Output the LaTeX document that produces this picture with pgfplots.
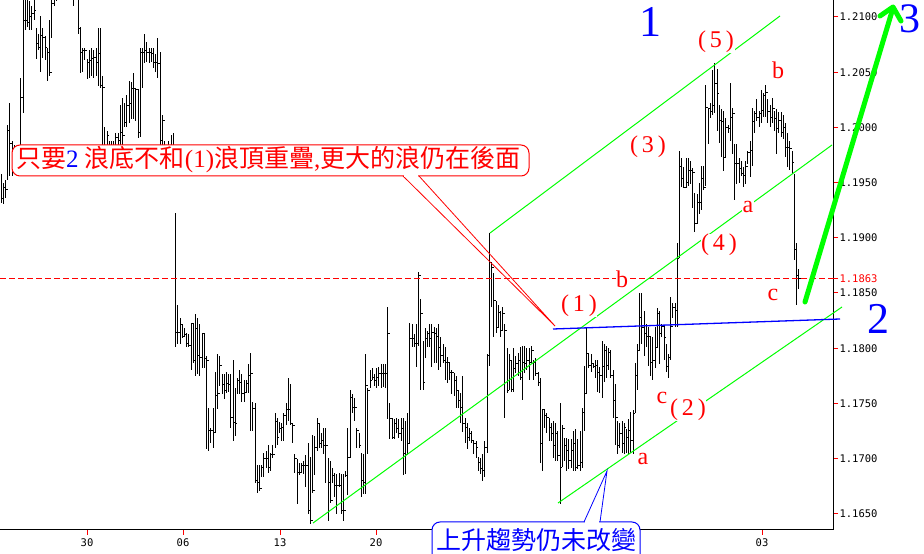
\documentclass[border=0pt]{standalone}
\usepackage{pgfplots}
\pgfplotsset{compat=1.18}
\usepackage{pgfplotstable}
\usepackage{fontspec}
\setmainfont{Liberation Serif}
\newfontfamily\cjk{Noto Sans CJK TC}
\newfontfamily\mono{DejaVu Sans Mono}
\definecolor{lime}{RGB}{0,255,0}
\definecolor{pblue}{RGB}{0,0,255}
\definecolor{pred}{RGB}{255,0,0}

\pgfdeclareplotmark{clt}{\pgfpathmoveto{\pgfqpoint{0pt}{0pt}}\pgfpathlineto{\pgfqpoint{2.1pt}{0pt}}\pgfusepathqstroke}
\pgfdeclareplotmark{opt}{\pgfpathmoveto{\pgfqpoint{-2.1pt}{0pt}}\pgfpathlineto{\pgfqpoint{0pt}{0pt}}\pgfusepathqstroke}

% bar index, high, low, close
\pgfplotstableread{
i h l c
0 1.1958 1.1932 1.1936
1 1.1950 1.1931 1.1946
2 1.1952 1.1936 1.1944
3 1.2002 1.1952 1.1997
4 1.2022 1.1956 1.1985
5 1.1988 1.1956 1.1970
6 1.1984 1.1959 1.1975
7 1.1979 1.1961 1.1970
8 1.1981 1.1963 1.1977
9 1.2045 1.1979 1.2027
10 1.2124 1.2013 1.2097
11 1.2120 1.2088 1.2097
12 1.2118 1.2091 1.2095
13 1.2115 1.2088 1.2100
14 1.2110 1.2088 1.2103
15 1.2117 1.2097 1.2106
16 1.2090 1.2062 1.2076
17 1.2085 1.2070 1.2072
18 1.2101 1.2050 1.2083
19 1.2090 1.2063 1.2081
20 1.2083 1.2061 1.2072
21 1.2072 1.2042 1.2068
22 1.2097 1.2047 1.2050
23 1.2118 1.2081 1.2112
24 1.2129 1.2110 1.2124
25 1.2133 1.2115 1.2126
26 1.2142 1.2122 1.2138
27 1.2149 1.2129 1.2133
28 1.2147 1.2124 1.2129
29 1.2142 1.2120 1.2138
30 1.2151 1.2131 1.2142
31 1.2147 1.2126 1.2131
32 1.2138 1.2117 1.2122
33 1.2129 1.2110 1.2120
34 1.2133 1.2117 1.2124
35 1.2122 1.2085 1.2090
36 1.2091 1.2049 1.2068
37 1.2072 1.2050 1.2070
38 1.2072 1.2061 1.2070
39 1.2062 1.2044 1.2059
40 1.2070 1.2045 1.2061
41 1.2072 1.2047 1.2062
42 1.2070 1.2045 1.2063
43 1.2072 1.2047 1.2059
44 1.2090 1.2038 1.2067
45 1.2090 1.2036 1.2038
46 1.2047 1.1970 1.2036
47 1.2000 1.1965 1.1979
48 1.1997 1.1961 1.1993
49 1.1988 1.1963 1.1970
50 1.1988 1.1961 1.1979
51 1.1988 1.1959 1.1984
52 1.1995 1.1965 1.1991
53 1.1995 1.1970 1.1988
54 1.2020 1.1970 1.1995
55 1.2027 1.1979 1.1993
56 1.2022 1.2000 1.2004
57 1.2029 1.2000 1.2020
58 1.2042 1.2004 1.2022
59 1.2041 1.2008 1.2035
60 1.2049 1.2008 1.2035
61 1.2035 1.2006 1.2034
62 1.2035 1.1990 1.1995
63 1.2072 1.1991 1.2068
64 1.2072 1.2036 1.2068
65 1.2085 1.2058 1.2070
66 1.2077 1.2059 1.2068
67 1.2072 1.2058 1.2068
68 1.2072 1.2059 1.2067
69 1.2072 1.2054 1.2059
70 1.2067 1.2050 1.2059
71 1.2081 1.2045 1.2058
72 1.2068 1.1981 1.1988
73 1.2011 1.1970 1.2006
74 1.1988 1.1961 1.1970
75 1.1984 1.1959 1.1979
76 1.1988 1.1963 1.1975
77 1.1993 1.1965 1.1984
78 1.1995 1.1961 1.1979
79 1.1923 1.1801 1.1814
80 1.1839 1.1804 1.1814
81 1.1827 1.1804 1.1821
82 1.1822 1.1809 1.1811
83 1.1818 1.1810 1.1812
84 1.1814 1.1801 1.1804
85 1.1813 1.1801 1.1802
86 1.1823 1.1780 1.1822
87 1.1823 1.1787 1.1789
88 1.1831 1.1775 1.1818
89 1.1827 1.1777 1.1793
90 1.1822 1.1775 1.1792
91 1.1814 1.1782 1.1813
92 1.1814 1.1782 1.1791
93 1.1793 1.1709 1.1789
94 1.1746 1.1707 1.1725
95 1.1728 1.1714 1.1725
96 1.1746 1.1710 1.1724
97 1.1778 1.1723 1.1757
98 1.1795 1.1745 1.1759
99 1.1793 1.1766 1.1784
100 1.1777 1.1759 1.1767
101 1.1777 1.1754 1.1762
102 1.1778 1.1759 1.1768
103 1.1777 1.1760 1.1767
104 1.1777 1.1728 1.1737
105 1.1789 1.1716 1.1733
106 1.1764 1.1721 1.1732
107 1.1773 1.1759 1.1771
108 1.1780 1.1759 1.1769
109 1.1777 1.1751 1.1759
110 1.1771 1.1751 1.1760
111 1.1771 1.1759 1.1768
112 1.1786 1.1759 1.1775
113 1.1796 1.1725 1.1777
114 1.1751 1.1725 1.1745
115 1.1750 1.1678 1.1680
116 1.1694 1.1669 1.1678
117 1.1694 1.1671 1.1673
118 1.1694 1.1683 1.1692
119 1.1705 1.1683 1.1700
120 1.1707 1.1692 1.1700
121 1.1712 1.1687 1.1692
122 1.1705 1.1689 1.1704
123 1.1712 1.1701 1.1704
124 1.1741 1.1710 1.1734
125 1.1737 1.1712 1.1719
126 1.1733 1.1723 1.1727
127 1.1732 1.1716 1.1728
128 1.1741 1.1716 1.1739
129 1.1750 1.1730 1.1744
130 1.1773 1.1734 1.1744
131 1.1768 1.1730 1.1732
132 1.1732 1.1714 1.1730
133 1.1704 1.1687 1.1700
134 1.1700 1.1659 1.1687
135 1.1696 1.1685 1.1687
136 1.1696 1.1687 1.1694
137 1.1698 1.1686 1.1694
138 1.1703 1.1674 1.1694
139 1.1714 1.1650 1.1653
140 1.1701 1.1641 1.1644
141 1.1721 1.1669 1.1671
142 1.1721 1.1685 1.1710
143 1.1737 1.1707 1.1732
144 1.1732 1.1710 1.1714
145 1.1723 1.1710 1.1716
146 1.1728 1.1704 1.1712
147 1.1728 1.1678 1.1712
148 1.1701 1.1644 1.1678
149 1.1698 1.1660 1.1662
150 1.1692 1.1678 1.1685
151 1.1687 1.1665 1.1676
152 1.1686 1.1650 1.1676
153 1.1687 1.1674 1.1676
154 1.1686 1.1650 1.1653
155 1.1686 1.1644 1.1653
156 1.1689 1.1683 1.1685
157 1.1728 1.1667 1.1701
158 1.1762 1.1701 1.1755
159 1.1759 1.1741 1.1746
160 1.1755 1.1734 1.1746
161 1.1728 1.1710 1.1725
162 1.1723 1.1710 1.1712
163 1.1705 1.1665 1.1680
164 1.1704 1.1668 1.1678
165 1.1795 1.1668 1.1766
166 1.1764 1.1704 1.1762
167 1.1780 1.1764 1.1771
168 1.1782 1.1771 1.1773
169 1.1777 1.1766 1.1771
170 1.1782 1.1764 1.1773
171 1.1783 1.1766 1.1777
172 1.1786 1.1764 1.1777
173 1.1786 1.1765 1.1777
174 1.1786 1.1764 1.1777
175 1.1837 1.1736 1.1813
176 1.1750 1.1718 1.1736
177 1.1737 1.1718 1.1719
178 1.1736 1.1718 1.1732
179 1.1737 1.1723 1.1727
180 1.1736 1.1719 1.1723
181 1.1737 1.1716 1.1727
182 1.1737 1.1685 1.1705
183 1.1734 1.1686 1.1704
184 1.1741 1.1703 1.1714
185 1.1823 1.1714 1.1809
186 1.1822 1.1801 1.1809
187 1.1813 1.1801 1.1804
188 1.1822 1.1783 1.1804
189 1.1869 1.1802 1.1866
190 1.1845 1.1762 1.1831
191 1.1807 1.1762 1.1769
192 1.1818 1.1791 1.1809
193 1.1816 1.1801 1.1813
194 1.1822 1.1801 1.1809
195 1.1822 1.1783 1.1814
196 1.1819 1.1787 1.1813
197 1.1818 1.1787 1.1811
198 1.1822 1.1780 1.1801
199 1.1810 1.1783 1.1793
200 1.1804 1.1787 1.1789
201 1.1801 1.1771 1.1787
202 1.1792 1.1769 1.1787
203 1.1787 1.1771 1.1778
204 1.1780 1.1759 1.1778
205 1.1778 1.1757 1.1771
206 1.1775 1.1746 1.1762
207 1.1762 1.1746 1.1753
208 1.1759 1.1732 1.1746
209 1.1775 1.1724 1.1732
210 1.1737 1.1714 1.1728
211 1.1732 1.1709 1.1719
212 1.1728 1.1716 1.1723
213 1.1725 1.1714 1.1716
214 1.1716 1.1704 1.1714
215 1.1716 1.1701 1.1710
216 1.1701 1.1689 1.1696
217 1.1701 1.1686 1.1691
218 1.1704 1.1680 1.1689
219 1.1716 1.1683 1.1710
220 1.1795 1.1705 1.1793
221 1.1904 1.1784 1.1878
222 1.1878 1.1837 1.1873
223 1.1868 1.1810 1.1843
224 1.1843 1.1814 1.1819
225 1.1839 1.1818 1.1832
226 1.1834 1.1810 1.1816
227 1.1837 1.1816 1.1831
228 1.1822 1.1737 1.1816
229 1.1800 1.1759 1.1762
230 1.1795 1.1762 1.1789
231 1.1789 1.1760 1.1763
232 1.1800 1.1760 1.1782
233 1.1793 1.1778 1.1786
234 1.1796 1.1775 1.1789
235 1.1801 1.1771 1.1773
236 1.1802 1.1753 1.1787
237 1.1802 1.1778 1.1786
238 1.1800 1.1780 1.1789
239 1.1800 1.1771 1.1787
240 1.1802 1.1787 1.1798
241 1.1789 1.1771 1.1787
242 1.1791 1.1775 1.1777
243 1.1778 1.1766 1.1769
244 1.1773 1.1696 1.1714
245 1.1745 1.1689 1.1744
246 1.1744 1.1728 1.1739
247 1.1741 1.1723 1.1737
248 1.1737 1.1716 1.1728
249 1.1732 1.1716 1.1723
250 1.1734 1.1701 1.1712
251 1.1732 1.1698 1.1723
252 1.1725 1.1698 1.1703
253 1.1750 1.1659 1.1692
254 1.1730 1.1692 1.1727
255 1.1719 1.1698 1.1712
256 1.1719 1.1689 1.1707
257 1.1718 1.1691 1.1698
258 1.1718 1.1692 1.1707
259 1.1725 1.1689 1.1714
260 1.1727 1.1689 1.1692
261 1.1718 1.1691 1.1694
262 1.1725 1.1689 1.1696
263 1.1746 1.1692 1.1742
264 1.1784 1.1725 1.1759
265 1.1819 1.1759 1.1795
266 1.1796 1.1782 1.1784
267 1.1795 1.1778 1.1786
268 1.1787 1.1782 1.1783
269 1.1789 1.1773 1.1784
270 1.1789 1.1760 1.1778
271 1.1783 1.1759 1.1775
272 1.1807 1.1755 1.1783
273 1.1804 1.1769 1.1798
274 1.1802 1.1773 1.1784
275 1.1800 1.1780 1.1796
276 1.1798 1.1773 1.1775
277 1.1780 1.1737 1.1753
278 1.1768 1.1712 1.1737
279 1.1734 1.1704 1.1712
280 1.1732 1.1710 1.1723
281 1.1734 1.1705 1.1714
282 1.1732 1.1704 1.1728
283 1.1727 1.1705 1.1719
284 1.1736 1.1703 1.1725
285 1.1742 1.1705 1.1716
286 1.1744 1.1704 1.1741
287 1.1787 1.1741 1.1775
288 1.1804 1.1762 1.1798
289 1.1850 1.1798 1.1828
290 1.1850 1.1804 1.1819
291 1.1834 1.1793 1.1813
292 1.1822 1.1801 1.1811
293 1.1819 1.1784 1.1811
294 1.1810 1.1775 1.1787
295 1.1810 1.1771 1.1789
296 1.1819 1.1782 1.1801
297 1.1836 1.1800 1.1831
298 1.1834 1.1786 1.1813
299 1.1822 1.1810 1.1820
300 1.1820 1.1789 1.1810
301 1.1804 1.1778 1.1783
302 1.1795 1.1773 1.1792
303 1.1846 1.1789 1.1820
304 1.1841 1.1827 1.1837
305 1.1841 1.1819 1.1834
306 1.1895 1.1819 1.1881
307 1.1979 1.1882 1.1965
308 1.1972 1.1946 1.1954
309 1.1964 1.1945 1.1946
310 1.1972 1.1945 1.1950
311 1.1972 1.1947 1.1961
312 1.1970 1.1949 1.1961
313 1.1963 1.1927 1.1959
314 1.1941 1.1905 1.1913
315 1.1940 1.1913 1.1932
316 1.1950 1.1922 1.1932
317 1.1965 1.1925 1.1954
318 1.1965 1.1943 1.1946
319 1.2038 1.1947 1.2018
320 1.2018 1.1985 1.2017
321 1.2022 1.2009 1.2014
322 1.2052 1.2011 1.2020
323 1.2058 1.2013 1.2040
324 1.2053 1.1997 1.2031
325 1.2020 1.1986 1.2006
326 1.2017 1.1973 1.2005
327 1.2015 1.1961 1.1973
328 1.2009 1.1972 1.2000
329 1.2002 1.1995 1.1999
330 1.2040 1.1988 1.2009
331 1.2018 1.1976 1.2013
332 1.1985 1.1934 1.1967
333 1.1985 1.1949 1.1967
334 1.1972 1.1950 1.1963
335 1.1970 1.1956 1.1958
336 1.1964 1.1946 1.1956
337 1.1970 1.1949 1.1965
338 1.1979 1.1967 1.1977
339 1.1988 1.1955 1.1979
340 1.2018 1.1965 1.2005
341 1.2015 1.1995 1.2013
342 1.2026 1.2006 1.2009
343 1.2015 1.2000 1.2013
344 1.2034 1.2004 1.2015
345 1.2031 1.2009 1.2029
346 1.2038 1.2009 1.2032
347 1.2026 1.2004 1.2014
348 1.2020 1.2000 1.2009
349 1.2027 1.2004 1.2017
350 1.2015 1.1997 1.2008
351 1.2017 1.1976 1.1999
352 1.2014 1.1995 1.2006
353 1.2014 1.1991 1.1995
354 1.2011 1.1990 1.2000
355 1.2004 1.1973 1.1982
356 1.1995 1.1964 1.1982
357 1.1988 1.1961 1.1981
358 1.1979 1.1958 1.1968
359 1.1958 1.1880 1.1889
360 1.1895 1.1839 1.1866
361 1.1872 1.1854 1.1863
}\bars

\begin{document}
\begin{tikzpicture}
\useasboundingbox (0,0) rectangle (924pt,554pt);
\begin{axis}[
  at={(0pt,24pt)}, anchor=south west,
  scale only axis, width=833pt, height=530pt,
  xmin=0, xmax=833, ymin=1.16353, ymax=1.21154,
  axis x line*=bottom, axis y line*=right,
  axis line style={black, line width=1pt},
  tick align=outside, major tick length=5pt,
  tick style={pred, line width=1pt},
  ytick={1.165,1.170,1.175,1.180,1.185,1.190,1.195,1.200,1.205,1.210},
  yticklabels={1.1650,1.1700,1.1750,1.1800,1.1850,1.1900,1.1950,1.2000,1.2050,1.2100},
  xtick={87,183,280,376,473,569,762},
  xticklabels={30,06,13,20,{},{},03},
  ticklabel style={font=\mono\fontsize{10.5}{12}\selectfont, text=black},
  yticklabel style={xshift=-2pt},
  extra y ticks={1.1863},
  extra y tick labels={1.1863},
  extra y tick style={yticklabel style={text=pred}},
  clip mode=individual,
]
\addplot[forget plot, draw=none, mark=none,
  error bars/.cd, y dir=both, y explicit, error mark=none,
  error bar style={draw=black, solid, line width=1pt}]
  table[x expr=1+2.21*\thisrow{i}, y expr={(\thisrow{h}+\thisrow{l})/2}, y error expr={(\thisrow{h}-\thisrow{l})/2}] {\bars};
\addplot[forget plot, only marks, mark=clt, mark options={draw=black, line width=1pt}]
  table[x expr=1+2.21*\thisrow{i}, y=c] {\bars};
\addplot[forget plot, only marks, mark=opt, mark options={draw=black, line width=1pt}, restrict x to domain=0:800]
  table[x expr=1+2.21*(\thisrow{i}+1), y=c] {\bars};
\draw[pred, line width=1pt, dash pattern=on 6pt off 3pt] (axis cs:0,1.1863) -- (axis cs:833,1.1863);
\end{axis}

\begin{scope}[shift={(0pt,554pt)}, x=1pt, y=-1pt]
% channel lines
\draw[lime, line width=1pt] (490,233) -- (780,16);
\draw[lime, line width=1pt] (313,523) -- (832,145);
\draw[lime, line width=1pt] (558,503) -- (842,307);
% blue line
\draw[pblue, line width=1.3pt] (553,329) -- (840,319);
% red callout
\draw[pred, line width=0.8pt] (403,176) -- (555,326) -- (419,176);
\draw[pred, line width=1pt, fill=white, rounded corners=8pt] (12,145) rectangle (529,176);
\draw[white, line width=1.6pt] (404,176) -- (418,176);
\node[anchor=west, inner sep=0pt, text=pred, font=\fontsize{25}{25}\selectfont] at (16,160)
  {{\cjk 只要}{\color{pblue}2} {\cjk 浪底不和}(1){\cjk 浪頂重疊},{\cjk 更大的浪仍在後面}};
% blue callout
\draw[pblue, line width=0.8pt] (584,522) -- (607,471) -- (600,522);
\draw[pblue, line width=1pt, fill=white, rounded corners=8pt] (432,522) rectangle (640,566);
\draw[white, line width=1.6pt] (585,522) -- (599,522);
\node[inner sep=0pt, text=pblue, font=\cjk\fontsize{25}{25}\selectfont] at (536,540) {上升趨勢仍未改變};
% wave labels
\begin{scope}[every node/.style={text=pred, fill=white, inner sep=0.5pt, font=\fontsize{24}{24}\selectfont}]
\node at (716,42) {(\,5\,)};
\node at (778,70) {b};
\node at (648,147) {(\,3\,)};
\node at (748,207) {a};
\node at (719,245) {(\,4\,)};
\node at (622,279) {b};
\node at (773,295) {c};
\node at (579,306) {(\,1\,)};
\node at (662,398) {c};
\node at (688,410) {(\,2\,)};
\node at (643,459) {a};
\end{scope}
\node[inner sep=0pt, text=pblue, font=\fontsize{44}{44}\selectfont] at (650,22) {1};
\node[inner sep=0pt, text=pblue, font=\fontsize{42}{42}\selectfont] at (910,19) {3};
\node[inner sep=0pt, text=pblue, font=\fontsize{44}{44}\selectfont] at (878,319) {2};
% green arrow
\draw[lime, line width=5pt, line cap=round, line join=round] (805,302) -- (893,8);
\draw[lime, line width=5pt, line cap=round, line join=round] (880,16) -- (893,7) -- (901,21);
\end{scope}
\end{tikzpicture}
\end{document}
